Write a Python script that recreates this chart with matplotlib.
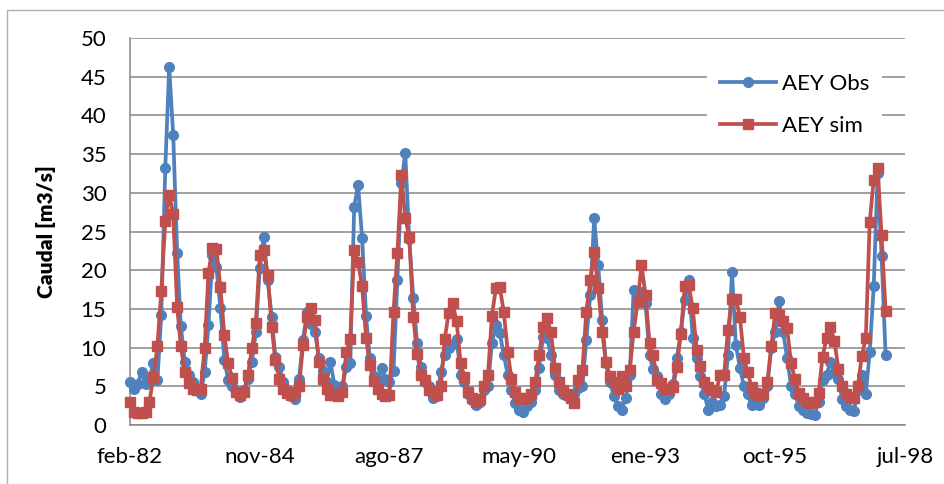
import matplotlib
matplotlib.use('Agg')
import matplotlib.pyplot as plt
import pandas as pd
from matplotlib.patches import Rectangle

# monthly flows, feb-82 .. feb-98
obs = [5.5, 4.6, 5.3, 6.8, 5.3, 6.0, 8.0, 5.8, 14.2, 33.2, 46.3, 37.5,
       22.2, 12.8, 8.2, 6.5, 5.5, 4.5, 4.0, 6.8, 12.9, 22.0, 20.4, 15.1,
       8.4, 5.8, 5.0, 4.2, 3.6, 4.5, 6.0, 8.2, 12.0, 20.3, 24.3, 18.7,
       14.0, 8.8, 7.5, 5.5, 4.5, 3.8, 3.3, 6.0, 11.0, 14.6, 13.0, 12.0,
       8.7, 7.0, 5.5, 8.1, 5.2, 4.5, 5.0, 7.5, 8.0, 28.2, 31.0, 24.2,
       14.1, 8.7, 6.3, 5.5, 7.3, 6.0, 5.5, 7.0, 18.7, 31.3, 35.1, 24.0,
       16.4, 10.6, 7.5, 5.5, 5.0, 3.5, 3.8, 6.8, 9.0, 10.0, 10.5, 11.1,
       6.5, 5.5, 4.0, 3.2, 2.6, 3.0, 4.5, 5.0, 10.6, 12.9, 11.9, 9.0,
       6.5, 4.5, 2.8, 2.0, 1.7, 2.5, 3.0, 4.5, 7.4, 11.4, 11.3, 9.0,
       6.5, 4.5, 4.0, 3.7, 3.5, 4.0, 4.8, 5.0, 11.0, 16.8, 26.7, 20.7,
       13.6, 8.0, 5.5, 3.8, 2.5, 2.0, 3.5, 6.5, 17.4, 16.8, 17.2, 15.7,
       9.0, 7.2, 6.3, 4.0, 3.4, 4.0, 5.3, 8.7, 12.0, 16.2, 18.7, 11.2,
       8.7, 6.3, 4.0, 2.0, 3.0, 2.5, 2.6, 3.8, 9.0, 19.8, 10.3, 7.4,
       5.0, 4.0, 2.6, 3.0, 2.6, 3.5, 5.0, 10.0, 12.0, 16.0, 12.0, 8.7,
       5.0, 4.0, 2.5, 2.0, 1.6, 1.4, 1.3, 3.0, 5.8, 6.5, 8.1, 6.7,
       6.0, 3.4, 2.5, 2.0, 1.8, 4.5, 6.5, 4.0, 9.4, 17.9, 32.5, 21.8,
       9.0]

sim = [3.0, 1.7, 1.5, 1.5, 1.7, 3.0, 6.2, 10.2, 17.3, 26.3, 29.7, 27.3,
       15.2, 10.2, 6.8, 5.4, 4.7, 4.5, 4.6, 9.9, 19.7, 22.9, 22.8, 17.8,
       11.6, 8.0, 6.1, 4.3, 3.9, 4.2, 6.5, 9.9, 13.2, 22.0, 22.6, 19.4,
       12.6, 8.4, 6.0, 4.7, 4.1, 3.9, 4.2, 5.0, 10.3, 14.0, 15.1, 13.6,
       8.1, 6.0, 4.7, 3.9, 3.9, 3.8, 4.3, 9.4, 11.1, 22.6, 21.1, 17.9,
       11.3, 7.8, 5.7, 4.6, 4.0, 3.8, 3.9, 14.6, 22.2, 32.3, 26.7, 24.3,
       13.9, 9.2, 6.5, 5.8, 4.5, 4.2, 3.9, 5.0, 11.1, 14.5, 15.7, 13.4,
       8.0, 6.2, 4.2, 3.5, 3.0, 3.3, 5.0, 6.5, 14.1, 17.7, 17.8, 14.6,
       9.4, 6.0, 4.2, 3.5, 3.3, 3.5, 4.0, 5.5, 9.0, 12.7, 13.8, 12.0,
       7.4, 5.5, 4.5, 4.0, 3.5, 2.9, 5.8, 7.1, 14.6, 18.7, 22.4, 17.7,
       12.0, 8.1, 6.3, 5.5, 4.6, 6.3, 5.0, 7.1, 12.0, 15.9, 20.7, 16.8,
       10.6, 9.0, 5.8, 5.4, 4.7, 4.7, 4.9, 7.5, 11.8, 17.9, 18.1, 15.1,
       9.7, 7.6, 5.6, 4.9, 4.5, 4.3, 6.5, 6.5, 12.3, 16.3, 16.3, 14.0,
       8.7, 6.9, 4.9, 4.1, 3.9, 4.0, 5.5, 10.2, 14.5, 14.2, 13.5, 12.5,
       8.0, 6.0, 4.1, 3.5, 3.0, 2.8, 3.0, 4.1, 8.8, 11.2, 12.6, 10.9,
       7.2, 5.0, 4.0, 3.6, 3.5, 5.0, 8.9, 11.3, 26.2, 31.7, 33.2, 24.5,
       14.7]

tick_dates = ['1982-02-01', '1984-11-01', '1987-08-01', '1990-05-01',
              '1993-01-01', '1995-10-01', '1998-07-01']
tick_labels = ['feb-82', 'nov-84', 'ago-87', 'may-90', 'ene-93', 'oct-95', 'jul-98']

dates = pd.date_range('1982-02-01', periods=len(obs), freq='MS')

plt.rcParams['font.family'] = ['Lato', 'DejaVu Sans']

W, H = 945, 484
fig = plt.figure(figsize=(W / 100, H / 100), dpi=100)
fig.patches.append(Rectangle((7 / W, -0.05), 1.1, 1 - 10 / H + 0.05,
                             transform=fig.transFigure, fill=False,
                             edgecolor='#b0b0b0', lw=1.0))
ax = fig.add_axes([130 / W, 59 / H, 775 / W, 387 / H])

ax.plot(dates, obs, color='#4F81BD', lw=2.7, marker='o', ms=7,
        label='AEY Obs', clip_on=False, zorder=3)
ax.plot(dates, sim, color='#C0504D', lw=2.7, marker='s', ms=7,
        label='AEY sim', clip_on=False, zorder=4)

ax.set_ylim(0, 50)
ax.set_yticks(range(0, 51, 5))
ax.set_xlim(pd.Timestamp(tick_dates[0]), pd.Timestamp(tick_dates[-1]))
ax.set_xticks(pd.to_datetime(tick_dates))
ax.set_xticklabels(tick_labels)

ax.grid(axis='y', color='#868686', lw=1.1)
ax.set_axisbelow(True)
for s in ['top', 'right']:
    ax.spines[s].set_visible(False)
for s in ['left', 'bottom']:
    ax.spines[s].set_color('#868686')
    ax.spines[s].set_linewidth(1.1)
ax.tick_params(axis='both', length=0, labelsize=16, colors='black')
ax.tick_params(axis='x', pad=16)
ax.tick_params(axis='y', pad=17)

ax.set_ylabel('Caudal [m3/s]', fontsize=15, fontweight='heavy')
ax.yaxis.set_label_coords(-0.095, 0.5)

leg = ax.legend(loc='upper right', bbox_to_anchor=(0.985, 0.97), fontsize=16,
                frameon=True, fancybox=False, framealpha=1, edgecolor='none',
                handlelength=2.5, handletextpad=0.25, labelspacing=1.0,
                borderpad=0.6)

fig.savefig('out.png', dpi=100)
